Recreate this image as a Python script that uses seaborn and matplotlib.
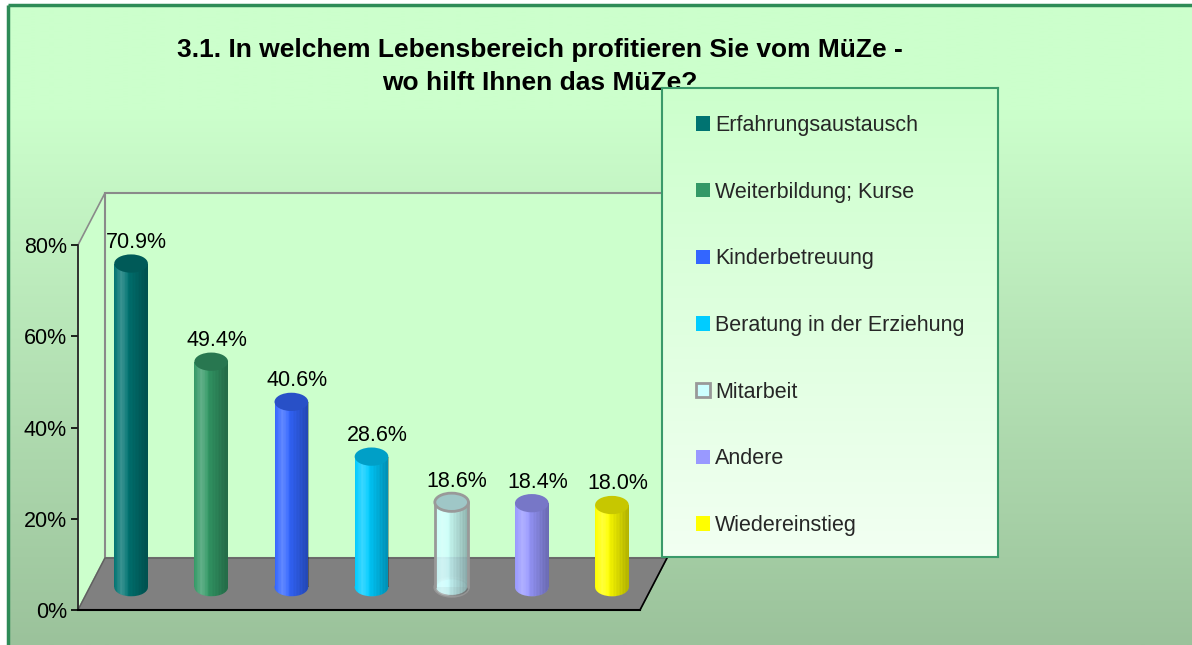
import numpy as np
import pandas as pd
import matplotlib
matplotlib.use("Agg")
import matplotlib.pyplot as plt
import seaborn as sns
from matplotlib.patches import Polygon, Rectangle, Ellipse, Patch
from matplotlib.colors import to_rgb
from matplotlib.ticker import FuncFormatter

# ---------------- data ----------------
categories = ["Erfahrungsaustausch", "Weiterbildung; Kurse", "Kinderbetreuung",
              "Beratung in der Erziehung", "Mitarbeit", "Andere", "Wiedereinstieg"]
values = [70.9, 49.4, 40.6, 28.6, 18.6, 18.4, 18.0]
colors = ["#007371", "#339966", "#3366ff", "#00ccff", "#ccffff", "#9999ff", "#ffff00"]
y_ticks = [0, 20, 40, 60, 80]
title_lines = ["3.1. In welchem Lebensbereich profitieren Sie vom MüZe -",
               "wo hilft Ihnen das MüZe?"]

sns.set_theme(style="white")
plt.rcParams['font.family'] = ['Liberation Sans', 'DejaVu Sans']

W, H = 1192, 645
fig = plt.figure(figsize=(W / 100, H / 100), dpi=100)
fig.patch.set_facecolor("white")


def fr(x0, y0, x1, y1):
    """pixel box (top-left origin) -> figure fraction rect"""
    return [x0 / W, 1 - y1 / H, (x1 - x0) / W, (y1 - y0) / H]


# ---------------- background / 3D frame ----------------
bg = fig.add_axes([0, 0, 1, 1], zorder=0)
top_c = np.array(to_rgb("#ccffcc"))
bot_c = np.array(to_rgb("#9bc29b"))
ys = np.linspace(5, H, 400)
t = np.clip((ys - 110) / (H - 110), 0, 1)[:, None]
grad = (top_c * (1 - t) + bot_c * t)[:, None, :]
bg.imshow(grad, extent=[8, W, H, 5], aspect="auto", zorder=0, interpolation="bilinear")
bg.plot([8, 8], [5, H], color="#2e8b57", lw=2.5, zorder=1, solid_capstyle="butt")
bg.plot([8, W], [5, 5], color="#2e8b57", lw=2.5, zorder=1, solid_capstyle="butt")

bg.add_patch(Polygon([(78, 610), (78, 245), (105, 193), (105, 558)], closed=True,
                     fc="#ccffcc", ec="#8a8a8a", lw=1.2, zorder=2))
bg.add_patch(Rectangle((105, 193), 562, 365, fc="#ccffcc", ec="#8a8a8a", lw=1.5, zorder=2))
bg.add_patch(Polygon([(78, 610), (640, 610), (667, 558), (105, 558)], closed=True,
                     fc="#808080", ec="#606060", lw=1, zorder=3))
bg.plot([640, 667], [610, 558], color="black", lw=1.2, zorder=4)
bg.set_xlim(0, W)
bg.set_ylim(H, 0)
bg.axis("off")

# ---------------- front axis (ticks) ----------------
ax = fig.add_axes(fr(78, 245, 640, 610), zorder=1)
ax.set_facecolor("none")
ax.set_ylim(0, 80)
ax.set_xlim(0, 1)
ax.set_yticks(y_ticks)
ax.yaxis.set_major_formatter(FuncFormatter(lambda v, p: f"{v:.0f}%"))
ax.set_xticks([])
for s in ["top", "right"]:
    ax.spines[s].set_visible(False)
ax.spines["left"].set_color("#222222")
ax.spines["left"].set_linewidth(1.2)
ax.spines["bottom"].set_color("black")
ax.spines["bottom"].set_linewidth(1.5)
ax.tick_params(axis="y", direction="out", length=5, width=1.2, color="black",
               labelsize=15.5, pad=3, labelcolor="black", left=True)

# ---------------- bars (cylinders) ----------------
bx = fig.add_axes(fr(91, 222, 652, 610), zorder=2)
bx.set_facecolor("none")
df = pd.DataFrame({"cat": categories, "val": values})
sns.barplot(data=df, x="cat", y="val", hue="cat", palette=colors, width=0.42,
            legend=False, ax=bx, saturation=1, linewidth=0, zorder=3)

eh = 4.0  # ellipse height in data units
xs = np.linspace(0, 1, 128)
light = np.clip(1 - np.abs(xs - 0.22) / 0.22, 0, 1) * 0.22
dark = np.clip((xs - 0.35) / 0.65, 0, 1) * 0.3
stripes = (np.sin(xs * 70) > 0.85) * 0.07
shade = np.zeros((1, len(xs), 4))
use_light = light > dark
shade[0, :, :3] = np.where(use_light[:, None], 1.0, 0.0)
shade[0, :, 3] = np.where(use_light, light, dark) + stripes

bars = [p for c in bx.containers for p in c]
for p, col, v in zip(bars, colors, values):
    x0, w, h = p.get_x(), p.get_width(), p.get_height()
    cx = x0 + w / 2
    outlined = col == "#ccffff"
    edge = "#999999" if outlined else "none"
    elw = 2 if outlined else 0
    base = np.array(to_rgb(col))
    p.set_linewidth(0)
    if outlined:
        p.set_alpha(0.88)
    bottom = Ellipse((cx, 0), w, eh, fc=base, ec=edge, lw=elw, zorder=2.5,
                     alpha=0.88 if outlined else 1)
    bx.add_patch(bottom)
    im_b = bx.imshow(shade, extent=[x0, x0 + w, -eh / 2, eh / 2], aspect="auto",
                     zorder=2.6, interpolation="bilinear")
    im_b.set_clip_path(bottom)
    im = bx.imshow(shade, extent=[x0, x0 + w, 0, h], aspect="auto",
                   zorder=3.2, interpolation="bilinear")
    im.set_clip_path(p)
    if outlined:
        bx.plot([x0, x0], [0, h], color=edge, lw=elw, zorder=3.3)
        bx.plot([x0 + w, x0 + w], [0, h], color=edge, lw=elw, zorder=3.3)
    top = Ellipse((cx, h), w, eh, fc=base * 0.78, ec=edge, lw=elw, zorder=3.5)
    bx.add_patch(top)
    bx.annotate(f"{v:.1f}%", (cx, h + eh / 2), xytext=(4, 1), textcoords="offset points",
                ha="center", va="bottom", fontsize=15.5, color="black", zorder=4)

bx.set_xlim(-0.5, 6.5)
bx.set_ylim(-5, 80)
bx.axis("off")

# ---------------- title ----------------
fig.text(540 / W, 1 - 50 / H, title_lines[0], ha="center", va="center",
         fontsize=19, fontweight="bold", color="black", zorder=3)
fig.text(540 / W, 1 - 83 / H, title_lines[1], ha="center", va="center",
         fontsize=19, fontweight="bold", color="black", zorder=3)

# ---------------- legend ----------------
legax = fig.add_axes(fr(662, 88, 998, 557), zorder=5)
lg_top = np.array(to_rgb("#ccffcc"))
lg_bot = np.array(to_rgb("#f2fff2"))
tt = np.linspace(0, 1, 200)[:, None]
lgrad = (lg_top * (1 - tt) + lg_bot * tt)[:, None, :]
legax.imshow(lgrad, extent=[0, 1, 0, 1], aspect="auto", interpolation="bilinear")
legax.set_xlim(0, 1)
legax.set_ylim(0, 1)
legax.set_xticks([])
legax.set_yticks([])
for s in legax.spines.values():
    s.set_color("#3a9a6a")
    s.set_linewidth(1.5)

handles = [Patch(facecolor=c, edgecolor=("#999999" if c == "#ccffff" else c),
                 linewidth=(2 if c == "#ccffff" else 0)) for c in colors]
legax.legend(handles, categories, loc="upper left", bbox_to_anchor=(0.101, 0.942),
             frameon=False, borderpad=0, borderaxespad=0, fontsize=15.5,
             handlelength=0.65, handleheight=0.65, handletextpad=0.25,
             labelspacing=2.12)

fig.savefig("out.png", dpi=100, facecolor=fig.get_facecolor())
